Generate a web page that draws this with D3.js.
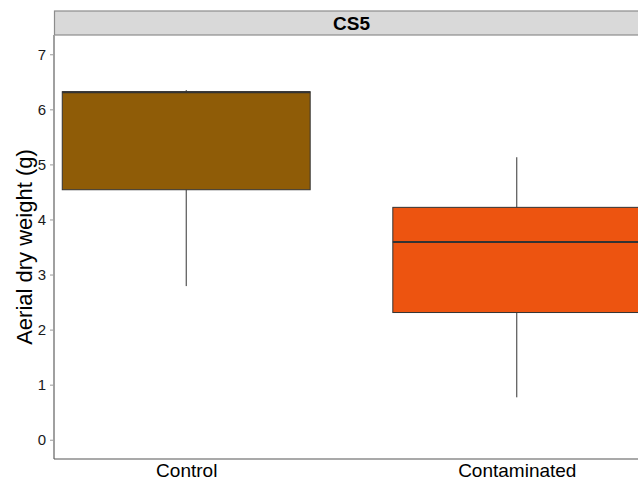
<!DOCTYPE html>
<html>
<head>
<meta charset="utf-8">
<script src="https://cdn.jsdelivr.net/npm/d3@7"></script>
<style>
  html, body { margin: 0; padding: 0; background: #ffffff; }
  svg { display: block; font-family: "Liberation Sans", Arial, sans-serif; }
</style>
</head>
<body>
<svg id="chart" width="638" height="483"></svg>
<script>
// Treatment groups and their box summaries (grams)
const categories = ["Control", "Contaminated"];
const lowerWhisker = [2.79, 0.77];
const q1 = [4.54, 2.31];
const median = [6.31, 3.59];
const q3 = [6.32, 4.22];
const upperWhisker = [6.35, 5.13];
const fills = ["#8F5C07", "#ED5410"];
const yTicks = [0, 1, 2, 3, 4, 5, 6, 7];
const facetLabel = "CS5";
const yTitle = "Aerial dry weight (g)";

const boxes = categories.map((c, i) => ({
  cat: c, idx: i + 1,
  lo: lowerWhisker[i], q1: q1[i], med: median[i], q3: q3[i], hi: upperWhisker[i],
  fill: fills[i]
}));

const svg = d3.select("#chart");
const panel = { left: 54, right: 649, top: 35, bottom: 459 };

const x = d3.scaleLinear().domain([0.6, 2.4]).range([panel.left, panel.right]);
const y = d3.scaleLinear().domain([-0.35, 7.35]).range([panel.bottom, panel.top]);
const boxW = 0.75;

// facet strip
svg.append("rect")
  .attr("x", panel.left + 0.5).attr("y", 11)
  .attr("width", panel.right - panel.left).attr("height", panel.top - 11)
  .attr("fill", "#d9d9d9").attr("stroke", "#8c8c8c").attr("stroke-width", 1.2);
svg.append("text")
  .attr("x", (panel.left + panel.right) / 2).attr("y", 29.5)
  .attr("text-anchor", "middle").attr("font-size", 19).attr("font-weight", "bold")
  .attr("fill", "#000").text(facetLabel);

const g = svg.append("g");

// whiskers
g.selectAll("line.whisker-hi").data(boxes).join("line")
  .attr("x1", d => x(d.idx)).attr("x2", d => x(d.idx))
  .attr("y1", d => y(d.q3)).attr("y2", d => y(d.hi))
  .attr("stroke", "#333").attr("stroke-width", 1);
g.selectAll("line.whisker-lo").data(boxes).join("line")
  .attr("x1", d => x(d.idx)).attr("x2", d => x(d.idx))
  .attr("y1", d => y(d.q1)).attr("y2", d => y(d.lo))
  .attr("stroke", "#333").attr("stroke-width", 1);

// boxes
g.selectAll("rect.box").data(boxes).join("rect")
  .attr("x", d => x(d.idx - boxW / 2)).attr("width", d => x(d.idx + boxW / 2) - x(d.idx - boxW / 2))
  .attr("y", d => y(d.q3)).attr("height", d => y(d.q1) - y(d.q3))
  .attr("fill", d => d.fill).attr("stroke", "#333").attr("stroke-width", 1);

// medians
g.selectAll("line.median").data(boxes).join("line")
  .attr("x1", d => x(d.idx - boxW / 2)).attr("x2", d => x(d.idx + boxW / 2))
  .attr("y1", d => y(d.med)).attr("y2", d => y(d.med))
  .attr("stroke", "#333").attr("stroke-width", 2);

// y axis
const yAxis = svg.append("g")
  .attr("transform", `translate(${panel.left},0)`)
  .call(d3.axisLeft(y).tickValues(yTicks).tickSize(4).tickPadding(4).tickFormat(d3.format("d")));
yAxis.select(".domain").remove();
yAxis.selectAll(".tick line").attr("stroke", "#999");
yAxis.selectAll(".tick text").attr("font-size", 15).attr("fill", "#1a1a1a")
  .attr("font-family", "Liberation Sans, Arial, sans-serif");
svg.append("line")
  .attr("x1", panel.left).attr("x2", panel.left)
  .attr("y1", panel.top).attr("y2", panel.bottom)
  .attr("stroke", "#a0a0a0").attr("stroke-width", 2);

// x axis
const xAxis = svg.append("g")
  .attr("transform", `translate(0,${panel.bottom})`)
  .call(d3.axisBottom(x).tickValues([1, 2]).tickSize(0).tickPadding(5)
    .tickFormat(d => categories[d - 1]));
xAxis.select(".domain").remove();
xAxis.selectAll(".tick text").attr("font-size", 19).attr("fill", "#000")
  .attr("font-family", "Liberation Sans, Arial, sans-serif");
svg.append("line")
  .attr("x1", panel.left).attr("x2", panel.right)
  .attr("y1", panel.bottom).attr("y2", panel.bottom)
  .attr("stroke", "#555").attr("stroke-width", 1.2);

// y axis title
svg.append("text")
  .attr("transform", `translate(32,${(panel.top + panel.bottom) / 2}) rotate(-90)`)
  .attr("text-anchor", "middle").attr("font-size", 22).attr("fill", "#000")
  .text(yTitle);
</script>
</body>
</html>
